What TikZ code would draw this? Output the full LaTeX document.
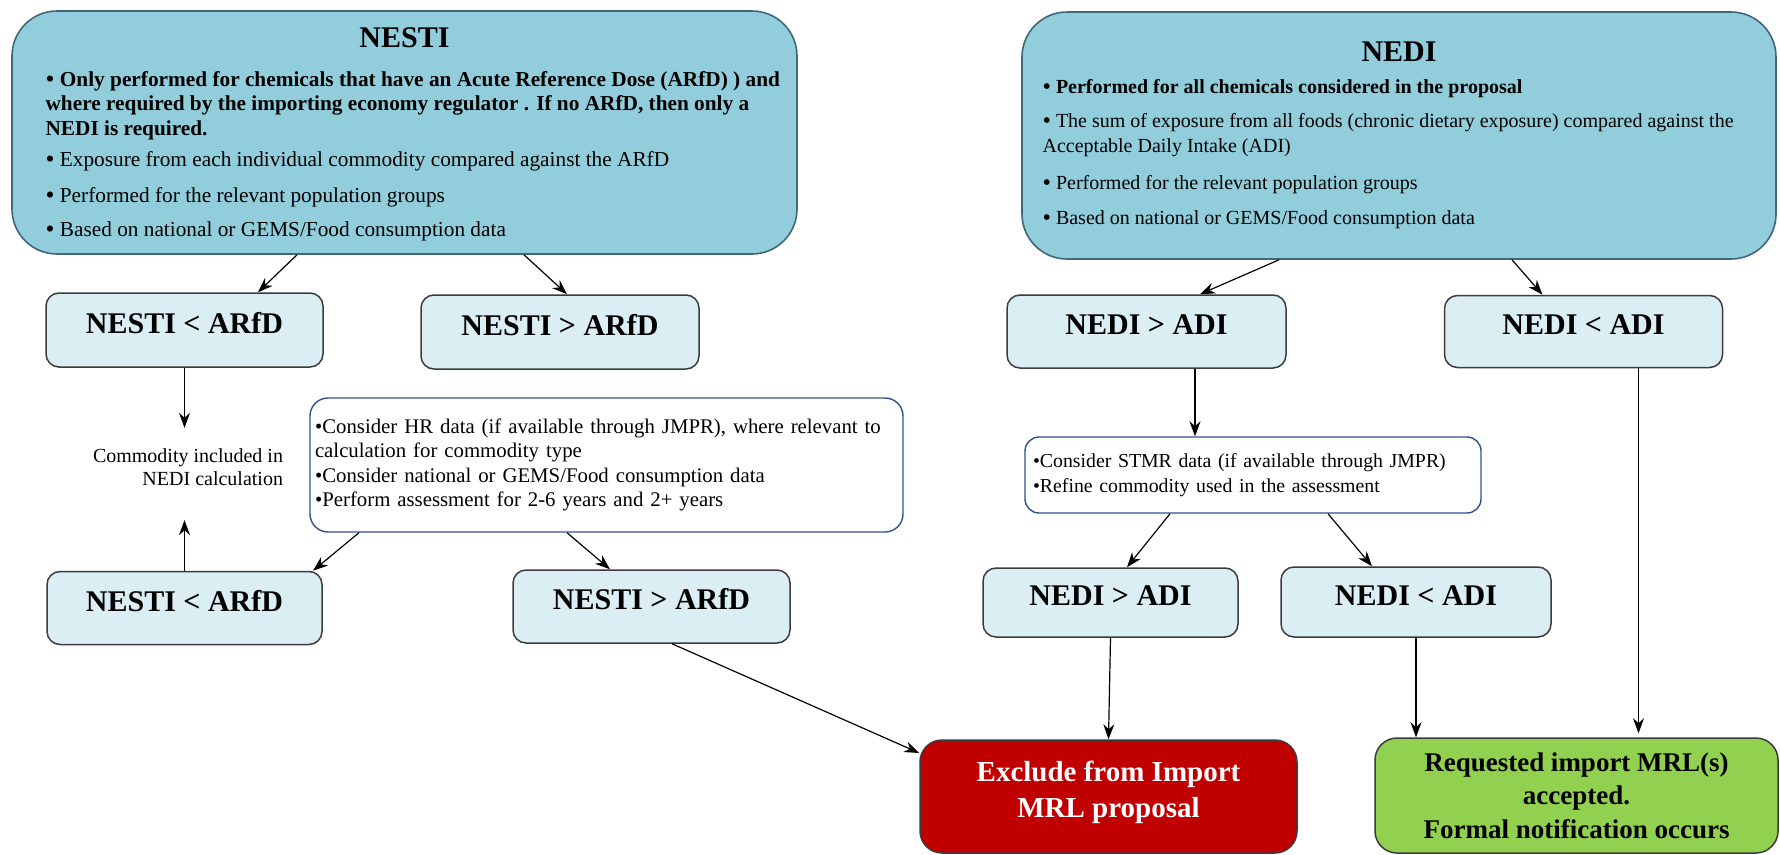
\documentclass[tikz,border=0pt]{standalone}
\usepackage{fontspec}
\setmainfont{Liberation Serif}
\usetikzlibrary{arrows.meta,positioning,shapes}

\definecolor{bigfill}{RGB}{146,205,220}
\definecolor{bigedge}{RGB}{66,102,122}
\definecolor{cmpfill}{RGB}{219,238,244}
\definecolor{cmpedge}{RGB}{60,60,60}
\definecolor{noteedge}{RGB}{47,82,143}
\definecolor{exclred}{RGB}{192,0,0}
\definecolor{okgreen}{RGB}{146,208,80}

\newcommand{\blt}{\raisebox{-0.05em}{\scalebox{1.2}{\textbullet}}}

\begin{document}
\begin{tikzpicture}[x=1pt,y=-1pt,->,>={Stealth[length=15pt,width=11pt]},
                    line width=1.2pt,inner sep=0pt]
  \tikzstyle{big}=[draw=bigedge,fill=bigfill,rounded corners=45pt,line width=1.6pt]
  \tikzstyle{cmp}=[draw=cmpedge,fill=cmpfill,rounded corners=13pt,line width=1.5pt,
                   minimum width=277pt,minimum height=74pt,
                   font=\fontsize{30}{34}\selectfont\bfseries,text height=20pt,text depth=14pt]
  \tikzstyle{note}=[draw=noteedge,fill=white,rounded corners=18pt,line width=1.4pt,align=left,
                    font=\fontsize{20.8}{24.4}\selectfont]
  \tikzstyle{endbox}=[draw=cmpedge,rounded corners=22pt,line width=1.5pt,align=center,
                      font=\fontsize{29}{36}\selectfont\bfseries]
  \tikzstyle{list}=[anchor=north west,align=left,font=\fontsize{20}{24.5}\selectfont]

  \useasboundingbox (0,0) rectangle (1780,854);

  % top boxes
  \node[big,minimum width=785pt,minimum height=243pt]  (nesti) at (404.5,132.5) {};
  \node[big,minimum width=754pt,minimum height=247pt]  (nedi)  at (1399,135.5)  {};
  \node[anchor=base,font=\fontsize{30}{36}\selectfont\bfseries] (nestititle) at (404.5,47) {NESTI};
  \node[anchor=base,font=\fontsize{30}{36}\selectfont\bfseries] (nedititle)  at (1399,61)  {NEDI};
  \node[list,font=\fontsize{21.3}{24.5}\selectfont] (nestilist) at (45,70.5) {%
    \blt\ \textbf{Only performed for chemicals that have an Acute Reference Dose (ARfD) ) and}\\
    \textbf{where required by the importing economy regulator . If no ARfD, then only a}\\
    \textbf{NEDI is required.}\\[6.5pt]
    \blt\ Exposure from each individual commodity compared against the ARfD\\[11.5pt]
    \blt\ Performed for the relevant population groups\\[9.5pt]
    \blt\ Based on national or GEMS/Food consumption data};
  \node[list] (nedilist) at (1042,79.3) {%
    \blt\ \textbf{Performed for all chemicals considered in the proposal}\\[9.5pt]
    \blt\ The sum of exposure from all foods (chronic dietary exposure) compared against the\\
    Acceptable Daily Intake (ADI)\\[12.5pt]
    \blt\ Performed for the relevant population groups\\[10.5pt]
    \blt\ Based on national or GEMS/Food consumption data};

  % NESTI branch
  \node[cmp] (lowA)  at (184.5,330) {NESTI < ARfD};
  \node[cmp,minimum width=278pt] (highA) at (560,332) {NESTI > ARfD};
  \node[cmp,minimum width=275pt,minimum height=73pt] (lowB) [below=203pt of lowA] {NESTI < ARfD};
  \node[cmp,minimum height=73pt] (highB) at (651.5,606.5) {NESTI > ARfD};
  \node[align=right,font=\fontsize{20}{23}\selectfont,inner ysep=20pt] (commodity) at (188,467)
       {Commodity included in\\NEDI calculation};
  \node[note,minimum width=593pt,minimum height=134pt,text width=583pt] (hrnote) at (606.5,465)
       {\textbullet Consider HR data (if available through JMPR), where relevant to\\
        calculation for commodity type\\
        \textbullet Consider national or GEMS/Food consumption data\\
        \textbullet Perform assessment for 2-6 years and 2+ years};

  % NEDI branch
  \node[cmp,minimum width=279pt,minimum height=73pt] (overA) at (1146.5,331.5) {NEDI > ADI};
  \node[cmp,minimum width=278pt,minimum height=72pt] (underA) [right=157pt of overA] {NEDI < ADI};
  \node[note,font=\fontsize{19.8}{24.4}\selectfont,rounded corners=14pt,
        minimum width=456pt,minimum height=76pt,text width=440pt] (stmrnote)
       at (1253,475) {\textbullet Consider STMR data (if available through JMPR)\\
        \textbullet Refine commodity used in the assessment};
  \node[cmp,minimum width=255pt,minimum height=69pt] (overB)  at (1110.5,602.5) {NEDI > ADI};
  \node[cmp,minimum width=270pt,minimum height=70pt] (underB) at (1416,602)    {NEDI < ADI};

  % outcomes
  \node[endbox,fill=exclred,text=white,minimum width=377pt,minimum height=113pt,
        text depth=14pt] (exclude)
       at (1108.5,796.5) {Exclude from Import\\MRL proposal};
  \node[endbox,fill=okgreen,font=\fontsize{27}{33.5}\selectfont\bfseries,
        minimum width=403pt,minimum height=115pt] (accept)
       at (1576.5,795.5) {Requested import MRL(s)\\accepted.\\Formal notification occurs};

  \draw ([xshift=-107.5pt]nesti.south) -- ([xshift=73.5pt]lowA.north);
  \draw ([xshift=119.5pt]nesti.south) -- ([xshift=7pt]highA.north);
  \draw (lowA.south) -- (lowA.south |- commodity.north);
  \draw[shorten >=14pt] (lowB.north) -- (lowB.north |- commodity.south);
  \draw ([xshift=-247.5pt]hrnote.south) -- ([xshift=128.5pt]lowB.north);
  \draw ([xshift=-39.5pt]hrnote.south) -- ([xshift=-41.5pt]highB.north);
  \draw ([xshift=20.5pt]highB.south) -- ([yshift=43.5pt]exclude.west);

  \draw ([xshift=-120pt]nedi.south) -- ([xshift=53.5pt]overA.north);
  \draw ([xshift=113pt]nedi.south) -- ([xshift=-41pt]underA.north);
  \draw ([xshift=48.5pt]overA.south) -- ([xshift=48.5pt]overA.south |- stmrnote.north);
  \draw ([xshift=-83pt]stmrnote.south) -- ([xshift=16.5pt]overB.north);
  \draw ([xshift=75pt]stmrnote.south) -- ([xshift=-44pt]underB.north);
  \draw (overB.south) -- (exclude.north);
  \draw (underB.south) -- (underB.south |- accept.north);
  \draw[shorten >=4pt] ([xshift=55pt]underA.south) -- ([xshift=55pt]underA.south |- accept.north);
\end{tikzpicture}
\end{document}
